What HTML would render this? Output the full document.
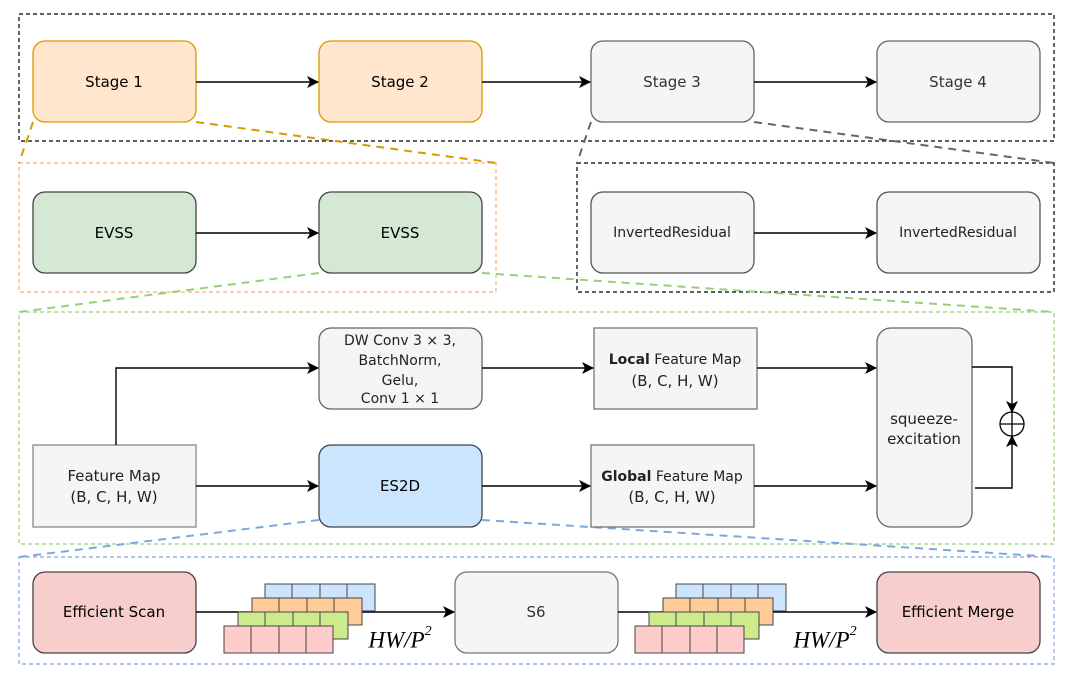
<!DOCTYPE html>
<html><head><meta charset="utf-8"><style>
html,body{margin:0;padding:0;background:#fff;}
svg{display:block;}
text{font-family:"DejaVu Sans","Liberation Sans",sans-serif;font-size:15px;fill:#000;text-anchor:middle;dominant-baseline:central;}
.m{font-family:"Liberation Serif",serif;font-style:italic;font-size:23px;}
</style></head><body>
<svg width="1081" height="683" viewBox="0 0 1081 683" xmlns="http://www.w3.org/2000/svg">
<defs><marker id="a" markerWidth="12" markerHeight="12" refX="11" refY="6" orient="auto" markerUnits="userSpaceOnUse"><path d="M0,0 L12,6 L0,12 L3,6 z" fill="#000"/></marker></defs>
<g fill="none" stroke-width="1.2" stroke-dasharray="4,3">
<rect x="19" y="14" width="1035" height="127" stroke="#000"/>
<rect x="19" y="163" width="477" height="129" stroke="#f4b183"/>
<rect x="577" y="163" width="477" height="129" stroke="#000"/>
<rect x="19" y="312" width="1035" height="232" stroke="#97d077"/>
<rect x="19" y="557" width="1035" height="107" stroke="#7ea6e0"/>
</g>
<g fill="none" stroke-width="2" stroke-dasharray="8,6">
<path d="M33,122 L19,163 M196,122 L496,163" stroke="#d79b00"/>
<path d="M591,122 L577,163 M754,122 L1054,163" stroke="#666"/>
<path d="M319,273 L19,312 M482,273 L1054,312" stroke="#97d077"/>
<path d="M319,520 L19,557 M482,520 L1054,557" stroke="#7ea6e0"/>
</g>
<g stroke-width="1.3">
<rect x="33" y="41" width="163" height="81" rx="12" fill="#ffe6cc" stroke="#d79b00"/>
<rect x="319" y="41" width="163" height="81" rx="12" fill="#ffe6cc" stroke="#d79b00"/>
<rect x="591" y="41" width="163" height="81" rx="12" fill="#f5f5f5" stroke="#666"/>
<rect x="877" y="41" width="163" height="81" rx="12" fill="#f5f5f5" stroke="#666"/>
<rect x="33" y="192" width="163" height="81" rx="12" fill="#d5e8d4" stroke="#444"/>
<rect x="319" y="192" width="163" height="81" rx="12" fill="#d5e8d4" stroke="#444"/>
<rect x="591" y="192" width="163" height="81" rx="12" fill="#f5f5f5" stroke="#555"/>
<rect x="877" y="192" width="163" height="81" rx="12" fill="#f5f5f5" stroke="#555"/>
<rect x="319" y="328" width="163" height="81" rx="12" fill="#f5f5f5" stroke="#666"/>
<rect x="33" y="445" width="163" height="82" fill="#f5f5f5" stroke="#888"/>
<rect x="319" y="445" width="163" height="82" rx="12" fill="#cce5ff" stroke="#444"/>
<rect x="594" y="328" width="163" height="81" fill="#f5f5f5" stroke="#777"/>
<rect x="591" y="445" width="163" height="82" fill="#f5f5f5" stroke="#777"/>
<rect x="877" y="328" width="95" height="199" rx="14" fill="#f5f5f5" stroke="#666"/>
<rect x="33" y="572" width="163" height="81" rx="12" fill="#f8cecc" stroke="#444"/>
<rect x="455" y="572" width="163" height="81" rx="12" fill="#f5f5f5" stroke="#777"/>
<rect x="877" y="572" width="163" height="81" rx="12" fill="#f8cecc" stroke="#444"/>
</g>
<g stroke="#000" stroke-width="1.4" fill="none" marker-end="url(#a)">
<path d="M196,82 H318"/><path d="M482,82 H590"/><path d="M754,82 H876"/>
<path d="M196,233 H318"/><path d="M754,233 H876"/>
<path d="M116,445 V368 H318"/>
<path d="M196,486 H318"/>
<path d="M482,368 H593"/><path d="M482,486 H590"/>
<path d="M757,368 H876"/><path d="M754,486 H876"/>
<path d="M972,367 H1012 V412"/><path d="M975,488 H1012 V436"/>
<path d="M196,612 H454"/><path d="M618,612 H876"/>
</g>
<circle cx="1012" cy="424" r="12" fill="#fff" stroke="#000" stroke-width="1.3"/>
<path d="M1000,424 H1024 M1012,412 V436" stroke="#000" stroke-width="1.3"/>
<g stroke="#444" stroke-width="1">
<g>
<rect x="265" y="584" width="110" height="27" fill="#cce5ff"/><path d="M292,584v27M320,584v27M347,584v27"/>
<rect x="252" y="598" width="110" height="27" fill="#ffcc99"/><path d="M279,598v27M307,598v27M334,598v27"/>
<rect x="238" y="612" width="110" height="27" fill="#cdeb8b"/><path d="M265,612v27M293,612v27M320,612v27"/>
<rect x="224" y="626" width="109" height="27" fill="#ffcccc"/><path d="M251,626v27M279,626v27M306,626v27"/>
</g>
<g transform="translate(411,0)">
<rect x="265" y="584" width="110" height="27" fill="#cce5ff"/><path d="M292,584v27M320,584v27M347,584v27"/>
<rect x="252" y="598" width="110" height="27" fill="#ffcc99"/><path d="M279,598v27M307,598v27M334,598v27"/>
<rect x="238" y="612" width="110" height="27" fill="#cdeb8b"/><path d="M265,612v27M293,612v27M320,612v27"/>
<rect x="224" y="626" width="109" height="27" fill="#ffcccc"/><path d="M251,626v27M279,626v27M306,626v27"/>
</g>
</g>
<text x="114" y="82">Stage 1</text><text x="400" y="82">Stage 2</text>
<text x="672" y="82" style="fill:#333">Stage 3</text><text x="958" y="82" style="fill:#333">Stage 4</text>
<text x="114" y="233">EVSS</text><text x="400" y="233">EVSS</text>
<text x="672" y="233" style="font-size:14px;fill:#222">InvertedResidual</text><text x="958" y="233" style="font-size:14px;fill:#222">InvertedResidual</text>
<text x="400" y="341" style="font-size:14px;fill:#222">DW Conv 3 × 3,</text>
<text x="400" y="361" style="font-size:14px;fill:#222">BatchNorm,</text>
<text x="400" y="381" style="font-size:14px;fill:#222">Gelu,</text>
<text x="400" y="399" style="font-size:14px;fill:#222">Conv 1 × 1</text>
<text x="114" y="476" style="fill:#222">Feature Map</text><text x="114" y="497" style="fill:#222">(B, C, H, W)</text>
<text x="400" y="486">ES2D</text>
<text x="675" y="360" style="font-size:14px;fill:#222"><tspan font-weight="bold">Local</tspan> Feature Map</text>
<text x="675" y="381" style="fill:#222">(B, C, H, W)</text>
<text x="672" y="477" style="font-size:14px;fill:#222"><tspan font-weight="bold">Global</tspan> Feature Map</text>
<text x="672" y="497" style="fill:#222">(B, C, H, W)</text>
<text x="924" y="419" style="fill:#222">squeeze-</text><text x="924" y="439" style="fill:#222">excitation</text>
<text x="114" y="612">Efficient Scan</text>
<text x="536" y="612" style="fill:#333">S6</text>
<text x="958" y="612">Efficient Merge</text>
<text class="m" x="400" y="640">HW/P<tspan dy="-9" font-size="14">2</tspan></text>
<text class="m" x="825" y="640">HW/P<tspan dy="-9" font-size="14">2</tspan></text>
</svg>
</body></html>
